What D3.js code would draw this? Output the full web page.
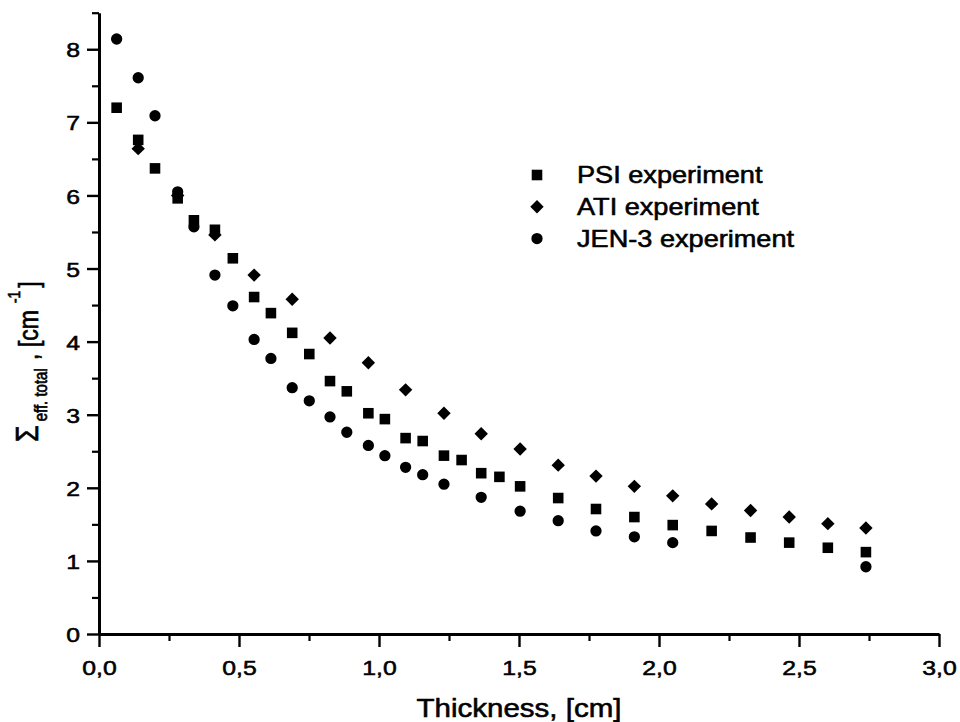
<!DOCTYPE html>
<html>
<head>
<meta charset="utf-8">
<script src="https://cdn.jsdelivr.net/npm/d3@7"></script>
<style>
  html, body { margin: 0; padding: 0; background: #fff; }
  svg { display: block; }
  text { font-family: "Liberation Sans", Arial, Helvetica, sans-serif; fill: #000; stroke: #000; stroke-width: 0.55px; }
</style>
</head>
<body>
<svg id="chart" width="960" height="722"></svg>
<script>
// Effective total cross-section vs. sample thickness
const psiX = [0.063, 0.140, 0.200, 0.281, 0.339, 0.414, 0.478, 0.554, 0.614, 0.690, 0.751,
              0.825, 0.885, 0.962, 1.021, 1.095, 1.156, 1.232, 1.295, 1.365, 1.430, 1.504,
              1.640, 1.775, 1.912, 2.049, 2.188, 2.327, 2.465, 2.603, 2.739];
const psiY = [7.20, 6.76, 6.37, 5.96, 5.66, 5.53, 5.14, 4.61, 4.39, 4.12, 3.83,
              3.46, 3.32, 3.02, 2.94, 2.68, 2.64, 2.44, 2.38, 2.20, 2.15, 2.02,
              1.86, 1.71, 1.60, 1.49, 1.41, 1.32, 1.25, 1.18, 1.12];

const atiX = [0.140, 0.281, 0.414, 0.554, 0.690, 0.825, 0.962, 1.095, 1.232, 1.365,
              1.504, 1.640, 1.775, 1.912, 2.049, 2.188, 2.327, 2.465, 2.603, 2.739];
const atiY = [6.64, 6.00, 5.46, 4.91, 4.58, 4.05, 3.71, 3.34, 3.02, 2.74,
              2.53, 2.31, 2.16, 2.02, 1.89, 1.78, 1.69, 1.60, 1.51, 1.45];

const jenX = [0.063, 0.140, 0.200, 0.281, 0.339, 0.414, 0.478, 0.554, 0.614, 0.690, 0.751,
              0.825, 0.885, 0.962, 1.021, 1.095, 1.156, 1.232, 1.365, 1.504, 1.640,
              1.775, 1.912, 2.049, 2.739];
const jenY = [8.14, 7.61, 7.09, 6.05, 5.57, 4.91, 4.49, 4.03, 3.77, 3.37, 3.19,
              2.97, 2.76, 2.58, 2.44, 2.28, 2.18, 2.05, 1.87, 1.68, 1.55,
              1.41, 1.33, 1.25, 0.92];

const seriesNames = ["PSI experiment", "ATI experiment", "JEN-3 experiment"];

const xMajorTicks = [0, 0.5, 1.0, 1.5, 2.0, 2.5, 3.0];
const xMinorTicks = [0.25, 0.75, 1.25, 1.75, 2.25, 2.75];
const yMajorTicks = [0, 1, 2, 3, 4, 5, 6, 7, 8];
const yMinorTicks = [0.5, 1.5, 2.5, 3.5, 4.5, 5.5, 6.5, 7.5, 8.5];

const svg = d3.select("#chart");
const SX = 1.18; // horizontal stretch of the lettering

const x = d3.scaleLinear().domain([0, 3]).range([99, 939]);
const y = d3.scaleLinear().domain([0, 8.5]).range([634, 12.7]);

const commaFmt = v => d3.format(".1f")(v).replace(".", ",");

// minor ticks
svg.append("g").attr("transform", `translate(0,${y(0)})`)
  .call(d3.axisBottom(x).tickValues(xMinorTicks).tickSize(7).tickSizeOuter(0).tickFormat(""))
  .call(g => g.select(".domain").remove())
  .call(g => g.selectAll("line").attr("stroke-width", 2.2));
svg.append("g").attr("transform", `translate(${x(0)},0)`)
  .call(d3.axisLeft(y).tickValues(yMinorTicks).tickSize(7).tickSizeOuter(0).tickFormat(""))
  .call(g => g.select(".domain").remove())
  .call(g => g.selectAll("line").attr("stroke-width", 2.2));

// major ticks + labels
const xAxis = svg.append("g").attr("transform", `translate(0,${y(0)})`)
  .call(d3.axisBottom(x).tickValues(xMajorTicks).tickSize(13).tickSizeOuter(0).tickFormat(commaFmt));
xAxis.select(".domain").attr("stroke-width", 3);
xAxis.selectAll("line").attr("stroke-width", 2.4);
xAxis.selectAll("text")
  .attr("font-size", 21).attr("font-family", null)
  .attr("y", 41).attr("dy", null)
  .attr("transform", `scale(${SX},1)`);

const yAxis = svg.append("g").attr("transform", `translate(${x(0)},0)`)
  .call(d3.axisLeft(y).tickValues(yMajorTicks).tickSize(12).tickSizeOuter(0).tickFormat(d3.format("d")));
yAxis.select(".domain").attr("stroke-width", 3);
yAxis.selectAll("line").attr("stroke-width", 2.4);
yAxis.selectAll("text")
  .attr("font-size", 21).attr("font-family", null)
  .attr("x", -19 / SX).attr("dy", "0.36em")
  .attr("transform", `scale(${SX},1)`);

// markers
const square = d3.symbol().type(d3.symbolSquare).size(112);
const diamond = d3.symbol().type(d3.symbolSquare).size(90);
const circle = d3.symbol().type(d3.symbolCircle).size(100);

const plot = svg.append("g");
plot.selectAll(".ati").data(d3.zip(atiX, atiY)).join("path")
  .attr("d", diamond)
  .attr("transform", d => `translate(${x(d[0])},${y(d[1])}) rotate(45)`)
  .attr("fill", "#000");
plot.selectAll(".psi").data(d3.zip(psiX, psiY)).join("path")
  .attr("d", square)
  .attr("transform", d => `translate(${x(d[0])},${y(d[1])})`)
  .attr("fill", "#000");
plot.selectAll(".jen").data(d3.zip(jenX, jenY)).join("path")
  .attr("d", circle)
  .attr("transform", d => `translate(${x(d[0])},${y(d[1])})`)
  .attr("fill", "#000");

// legend
const legendSymbols = [
  { path: square, rot: 0 },
  { path: diamond, rot: 45 },
  { path: circle, rot: 0 }
];
const legend = svg.append("g").attr("transform", "translate(537,175)");
seriesNames.forEach((name, i) => {
  const row = legend.append("g").attr("transform", `translate(0,${i * 31.8})`);
  row.append("path")
    .attr("d", legendSymbols[i].path)
    .attr("transform", `rotate(${legendSymbols[i].rot})`)
    .attr("fill", "#000");
  row.append("text")
    .attr("transform", `translate(40,8) scale(${SX},1)`)
    .attr("font-size", 23)
    .text(name);
});

// axis titles
svg.append("text")
  .attr("transform", `translate(${(x(0) + x(3)) / 2},717) scale(${SX},1)`)
  .attr("text-anchor", "middle")
  .attr("font-size", 25)
  .text("Thickness, [cm]");

const yTitle = svg.append("text")
  .attr("transform", `translate(38,442) rotate(-90) scale(1,${SX})`)
  .attr("font-size", 23);
yTitle.append("tspan").attr("font-size", 27).text("Σ");
yTitle.append("tspan").attr("font-size", 15).attr("dx", 4).attr("dy", 7.6).text("eff. total");
yTitle.append("tspan").attr("dx", 2).attr("dy", -7.6).text(" , [cm");
yTitle.append("tspan").attr("font-size", 14).attr("dx", 7).attr("dy", -15).text("-1");
yTitle.append("tspan").attr("dx", 3).attr("dy", 15).text("]");
</script>
</body>
</html>
